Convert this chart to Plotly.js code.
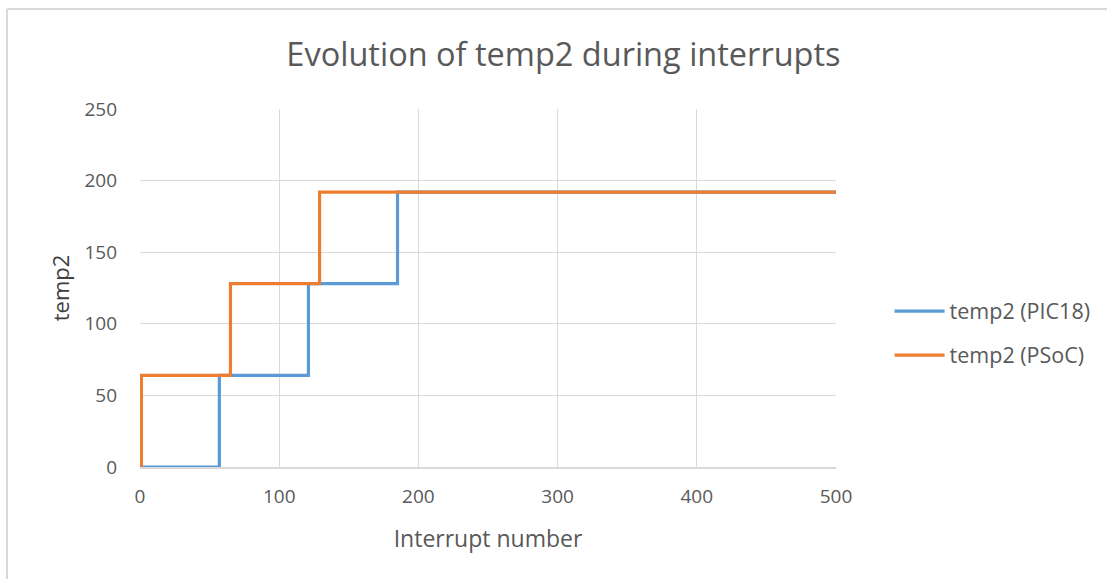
<!DOCTYPE html>
<html>
<head>
<meta charset="utf-8">
<script src="https://cdn.plot.ly/plotly-3.0.1.min.js"></script>
<style>html,body{margin:0;padding:0;background:#fff;}#chart{width:1107px;height:579px;}</style>
</head>
<body>
<div id="chart"></div>
<script>
// Step change points (interrupt number where temp2 takes new value)
const picX = [0, 57, 121, 185, 500];
const picY = [0, 64, 128, 192, 192];
const psocX = [0, 1, 65, 129, 500];
const psocY = [0, 64, 128, 192, 192];
const seriesNames = ["temp2 (PIC18)", "temp2 (PSoC)"];
const xTicks = [0, 100, 200, 300, 400, 500];
const yTicks = [0, 50, 100, 150, 200, 250];

const FONT = "'Open Sans', 'Noto Sans', sans-serif";
const traces = [
  {x: picX, y: picY, name: seriesNames[0], legendgroup: "a", mode: "lines", line: {color: "#5b9bd5", width: 3.2, shape: "hv"}},
  {x: psocX, y: psocY, name: seriesNames[1], legendgroup: "b", mode: "lines", line: {color: "#ed7d31", width: 3.2, shape: "hv"}}
];
const layout = {
  width: 1107, height: 579,
  margin: {l: 140, r: 271, t: 109, b: 112, autoexpand: false},
  paper_bgcolor: "#fff", plot_bgcolor: "#fff",
  font: {family: FONT, color: "#595959"},
  title: {text: "Evolution of temp2 during interrupts", font: {size: 32.5, color: "#595959", family: FONT}, x: 0.509, xanchor: "center", y: 0.905, yanchor: "middle"},
  xaxis: {
    range: [0, 500], tickvals: xTicks, ticktext: xTicks.map(String),
    showgrid: true, gridcolor: "#d9d9d9", gridwidth: 1,
    zeroline: false, showline: true, linecolor: "#d9d9d9", linewidth: 1.5,
    ticks: "", tickfont: {size: 19, color: "#595959"}, ticklabelstandoff: 12,
    title: {text: "Interrupt number", font: {size: 23, color: "#595959"}, standoff: 22}
  },
  yaxis: {
    range: [0, 250], tickvals: yTicks, ticktext: yTicks.map(String),
    showgrid: true, gridcolor: "#d9d9d9", gridwidth: 1,
    zeroline: false, showline: false,
    ticks: "", tickfont: {size: 19, color: "#595959"}, ticklabelstandoff: 22,
    title: {text: "temp2", font: {size: 22, color: "#404040"}, standoff: 8}
  },
  legend: {x: 1.077, xanchor: "left", y: 0.374, yanchor: "middle", font: {size: 21.5, color: "#595959"}, traceorder: "grouped", tracegroupgap: 13, itemwidth: 50, bgcolor: "rgba(0,0,0,0)"},
  shapes: [
    {type: "line", xref: "paper", yref: "paper", x0: -0.1911, x1: 1.39, y0: 1.2793, y1: 1.2793, line: {color: "#d9d9d9", width: 2}},
    {type: "line", xref: "paper", yref: "paper", x0: -0.1911, x1: -0.1911, y0: 1.2793, y1: -0.32, line: {color: "#d9d9d9", width: 2}}
  ],
  showlegend: true
};
Plotly.newPlot("chart", traces, layout, {displayModeBar: false, staticPlot: true});
</script>
</body>
</html>
